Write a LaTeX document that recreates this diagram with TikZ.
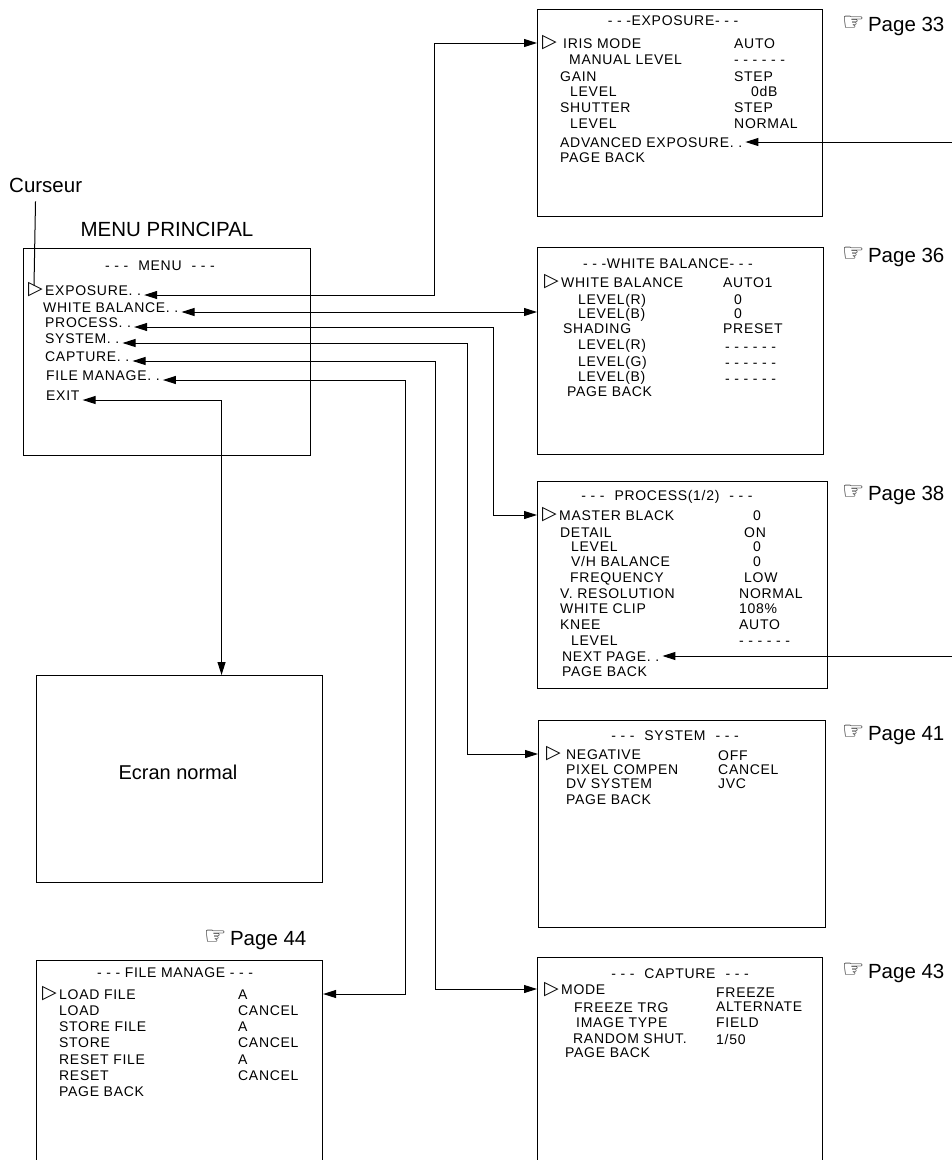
\documentclass[tikz,border=0pt]{standalone}
\usepackage{fontspec}
\setmainfont{Liberation Sans}
\newfontfamily\osdfont[LetterSpace=5]{Liberation Sans}
\newfontfamily\symfont{DejaVu Sans}
\usetikzlibrary{arrows.meta}

\newcommand{\cursym}{{\symfont ▷}}
\newcommand{\hand}{\raisebox{1pt}{\symfont\fontsize{25}{25}\selectfont ☞}}
\newcommand{\gap}{\hspace{10pt}}

\begin{document}
\begin{tikzpicture}[
    x=1pt, y=-1pt,
    screen/.style={draw, line width=1.1pt, anchor=north west, inner sep=0pt,
                   minimum width=#1, minimum height=207pt},
    osd/.style={font=\osdfont\fontsize{14}{15}\selectfont, anchor=west,
                inner sep=1pt, text height=10pt, text depth=0pt},
    head/.style={osd, anchor=center},
    cursor/.style={font=\symfont\fontsize{19}{19}\selectfont, anchor=west, inner sep=0pt},
    big/.style={font=\fontsize{20.5}{24}\selectfont, inner sep=0pt},
    pageref/.style={big, anchor=west},
    conn/.style={{Triangle[length=13pt,width=8pt]}-{Triangle[length=13pt,width=8pt]}, line width=1pt},
    jump/.style={-{Triangle[length=13pt,width=8pt]}, line width=1pt}
]
\useasboundingbox (0,0) rectangle (952,1160);
\clip (0,0) rectangle (952,1160);

% main menu
\node[big, anchor=west] (curs) at (9,185) {Curseur};
\node[big] (mtitle) at (167,229) {MENU PRINCIPAL};
\node[screen=287pt] (main) at (23,248) {};
\node[head] (mhead) at (160,265) {- - -\gap MENU\gap - - -};
\node[cursor] (cur) at (28,290) {\cursym};
\foreach \n/\x/\y/\t in {exp/44/290/{EXPOSURE. .}, wb/42/307/{WHITE BALANCE. .},
    proc/44/322/{PROCESS. .}, sys/44/338/{SYSTEM. .}, cap/44/356/{CAPTURE. .},
    file/45/375/{FILE MANAGE. .}, exit/45/395/EXIT}
   \node[osd] (m\n) at (\x,\y) {\t};
\draw[line width=1pt] ([yshift=-9pt]curs.south -| cur.north) -- ([xshift=-1.5pt,yshift=-3pt]cur.north);

\node[screen=286pt] (ecran) at (36,675) {};
\node[big, font=\fontsize{20}{24}\selectfont] (ecrantxt) at (178,772) {Ecran normal};

% EXPOSURE
\node[screen=285pt] (expo) at (537,9) {};
\node[head] (ehead) at (673,20) {- - -EXPOSURE- - -};
\node[cursor] (ecur) at (542,43) {\cursym};
\foreach \n/\x/\y/\t in {iris/562/43/IRIS MODE, man/568/59/MANUAL LEVEL, gain/559/76/GAIN,
    glev/569/91/LEVEL, shut/559/107/SHUTTER, slev/569/123/LEVEL,
    adv/559/142/{ADVANCED EXPOSURE. .}, back/559/157/PAGE BACK}
   \node[osd] (e\n) at (\x,\y) {\t};
\foreach \n/\x/\y/\t in {iris/733/43/AUTO, man/733/59/{- - - - - -}, gain/733/76/STEP,
    glev/750/91/0dB, shut/733/107/STEP, slev/733/123/NORMAL}
   \node[osd] (ev\n) at (\x,\y) {\t};

% WHITE BALANCE
\node[screen=286pt] (wb) at (537,247) {};
\node[head] (whead) at (668,263) {- - -WHITE BALANCE- - -};
\node[cursor] (wcur) at (544,282) {\cursym};
\foreach \n/\x/\y/\t in {wb/560/282/WHITE BALANCE, lr/577/299/LEVEL(R), lb/577/313/LEVEL(B),
    shad/562/328/SHADING, sr/577/344/LEVEL(R), sg/577/361/LEVEL(G), sb/577/376/LEVEL(B),
    back/566/391/PAGE BACK}
   \node[osd] (w\n) at (\x,\y) {\t};
\foreach \n/\x/\y/\t in {wb/722/282/AUTO1, lr/733/299/0, lb/733/313/0, shad/722/328/PRESET,
    sr/724/346/{- - - - - -}, sg/724/362/{- - - - - -}, sb/724/378/{- - - - - -}}
   \node[osd] (wv\n) at (\x,\y) {\t};

% PROCESS
\node[screen=290pt] (proc) at (537,481) {};
\node[head] (phead) at (667,495) {- - -\gap PROCESS(1/2)\gap - - -};
\node[cursor] (pcur) at (542,515) {\cursym};
\foreach \n/\x/\y/\t in {master/558/515/MASTER BLACK, det/559/532/DETAIL, dlev/570/546/LEVEL,
    vh/570/561/{V/H BALANCE}, freq/569/577/FREQUENCY, vres/559/593/V. RESOLUTION,
    clip/559/608/WHITE CLIP, knee/559/624/KNEE, klev/570/640/LEVEL,
    next/561/656/{NEXT PAGE. .}, back/561/671/PAGE BACK}
   \node[osd] (p\n) at (\x,\y) {\t};
\foreach \n/\x/\y/\t in {master/752/515/0, det/743/532/ON, dlev/752/546/0, vh/752/561/0,
    freq/743/577/LOW, vres/738/593/NORMAL, clip/738/608/{108\%}, knee/738/624/AUTO,
    klev/738/640/{- - - - - -}}
   \node[osd] (pv\n) at (\x,\y) {\t};

% SYSTEM
\node[screen=287pt] (sys) at (538,720) {};
\node[head] (shead) at (675,735) {- - -\gap SYSTEM\gap - - -};
\node[cursor] (scur) at (546,754) {\cursym};
\foreach \n/\x/\y/\t in {neg/565/754/NEGATIVE, pix/565/769/PIXEL COMPEN,
    dv/565/783/DV SYSTEM, back/565/799/PAGE BACK}
   \node[osd] (s\n) at (\x,\y) {\t};
\foreach \n/\x/\y/\t in {neg/717/755/OFF, pix/717/769/CANCEL, dv/717/783/JVC}
   \node[osd] (sv\n) at (\x,\y) {\t};

% CAPTURE
\node[screen=285pt] (cap) at (537,957) {};
\node[head] (chead) at (680,973) {- - -\gap CAPTURE\gap - - -};
\node[cursor] (ccur) at (544,990) {\cursym};
\foreach \n/\x/\y/\t in {mode/560/989/MODE, trg/573/1007/FREEZE TRG, img/575/1022/IMAGE TYPE,
    shut/572/1038/RANDOM SHUT., back/564/1052/PAGE BACK}
   \node[osd] (c\n) at (\x,\y) {\t};
\foreach \n/\x/\y/\t in {mode/715/992/FREEZE, trg/715/1006/ALTERNATE, img/715/1022/FIELD,
    shut/715/1039/{1/50}}
   \node[osd] (cv\n) at (\x,\y) {\t};

% FILE MANAGE
\node[screen=286pt] (file) at (36,960) {};
\node[head] (fhead) at (175,972) {- - - FILE MANAGE - - -};
\node[cursor] (fcur) at (42,994) {\cursym};
\foreach \n/\x/\y/\t in {load/58/994/LOAD FILE, ld/58/1010/LOAD, store/58/1026/STORE FILE,
    st/58/1042/STORE, reset/58/1059/RESET FILE, rs/58/1075/RESET, back/58/1091/PAGE BACK}
   \node[osd] (f\n) at (\x,\y) {\t};
\foreach \n/\y/\t in {load/994/A, ld/1010/CANCEL, store/1026/A, st/1042/CANCEL,
    reset/1059/A, rs/1075/CANCEL}
   \node[osd] (fv\n) at (237,\y) {\t};

% page references
\foreach \n/\x/\y in {33/842/26, 36/842/257, 38/842/495, 41/842/735, 43/842/973, 44/204/940}
   \node[pageref] (pg\n) at (\x,\y) {\hand\,Page \n};

% connectors
\draw[conn] ([xshift=2pt]mexp.base east) -| (434,0 |- eiris) -- (expo.west |- eiris);
\draw[conn] ([xshift=2pt]mwb.base east) -- (wb.west |- mwb.base east);
\draw[conn] ([xshift=2pt]mproc.base east) -| (493,0 |- pmaster) -- (proc.west |- pmaster);
\draw[conn] ([xshift=2pt]msys.base east) -| (467,0 |- sneg) -- (sys.west |- sneg);
\draw[conn] ([xshift=2pt]mcap.base east) -| (435,0 |- cmode) -- (cap.west |- cmode);
\draw[conn] ([xshift=2pt]mfile.base east) -| (405,0 |- fload) -- (file.east |- fload);
\draw[conn] ([xshift=2pt]mexit.base east) -| ([xshift=42pt]ecran.north);
% from the next pages
\coordinate (advsrc) at (952,142);
\coordinate (nextsrc) at (952,656);
\draw[jump] (advsrc) -- ([xshift=2pt]eadv.east |- advsrc);
\draw[jump] (nextsrc) -- ([xshift=2pt]pnext.east |- nextsrc);
\end{tikzpicture}
\end{document}
